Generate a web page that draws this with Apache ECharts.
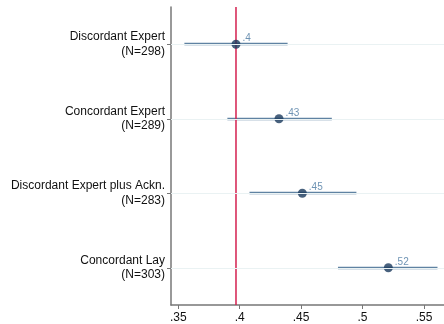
<!DOCTYPE html>
<html>
<head>
<meta charset="utf-8">
<script src="https://cdn.jsdelivr.net/npm/echarts@6/dist/echarts.min.js"></script>
<style>
  html, body { margin: 0; padding: 0; background: #fff; }
  #main { width: 444px; height: 324px; }
</style>
</head>
<body>
<div id="main"></div>
<script>
// group labels, top to bottom
const categories = [
  'Discordant Expert\n(N=298)',
  'Concordant Expert\n(N=289)',
  'Discordant Expert plus Ackn.\n(N=283)',
  'Concordant Lay\n(N=303)'
];
const means = [0.397, 0.432, 0.451, 0.521];
const lower = [0.355, 0.390, 0.408, 0.480];
const upper = [0.439, 0.475, 0.495, 0.561];
const meanLabels = ['.4', '.43', '.45', '.52'];
const referenceValue = 0.397;
const xTicks = [0.35, 0.4, 0.45, 0.5, 0.55];

const chart = echarts.init(document.getElementById('main'));

const ciData = categories.map((c, i) => [lower[i], upper[i], i]);
const pointData = categories.map((c, i) => ({ value: [means[i], c], label: { formatter: meanLabels[i] } }));

function renderCI(params, api) {
  const row = api.value(2);
  const a = api.coord([api.value(0), row]);
  const b = api.coord([api.value(1), row]);
  const y = Math.round(a[1]);
  return {
    type: 'line',
    shape: { x1: a[0], y1: y, x2: b[0], y2: y },
    style: { stroke: '#5f82a2', lineWidth: 2.5 }
  };
}

// vertical reference line across the whole plot
function renderRef(params, api) {
  const cs = params.coordSys;
  const x = api.coord([api.value(0), 0])[0];
  return {
    type: 'line',
    shape: { x1: x, y1: cs.y, x2: x, y2: cs.y + cs.height },
    style: { stroke: '#d41f4f', lineWidth: 1.5 }
  };
}

const fmt = v => String(+v.toFixed(2)).replace(/^0/, '');

chart.setOption({
  animation: false,
  grid: { left: 171, right: 0, top: 7, bottom: 18 },
  xAxis: {
    type: 'value',
    min: 0.3441,
    max: 0.5663,
    axisLine: { show: true, lineStyle: { color: '#777', width: 1.5 } },
    axisTick: { show: true, length: 4, customValues: xTicks, lineStyle: { color: '#777' } },
    axisLabel: {
      customValues: xTicks, formatter: fmt, margin: 7,
      color: '#111', fontSize: 12, fontFamily: 'Liberation Sans, Arial, sans-serif'
    },
    splitLine: { show: false }
  },
  yAxis: {
    type: 'category',
    data: categories,
    inverse: true,
    axisLine: { show: true, lineStyle: { color: '#777', width: 1.5 } },
    axisTick: { show: true, alignWithLabel: true, length: 4, lineStyle: { color: '#777' } },
    axisLabel: {
      margin: 6, color: '#111', fontSize: 12, lineHeight: 14.5, align: 'right',
      fontFamily: 'Liberation Sans, Arial, sans-serif'
    },
    splitLine: { show: false }
  },
  series: [
    {
      type: 'line',
      data: [],
      z: 1,
      markLine: {
        silent: true,
        symbol: 'none',
        label: { show: false },
        lineStyle: { color: '#eaf2f3', width: 1, type: 'solid' },
        data: categories.map(c => ({ yAxis: c }))
      }
    },
    {
      type: 'custom',
      renderItem: renderCI,
      encode: { x: [0, 1], y: 2 },
      data: ciData,
      z: 2
    },
    {
      type: 'custom',
      renderItem: renderRef,
      encode: { x: 0 },
      data: [[referenceValue]],
      z: 3
    },
    {
      type: 'scatter',
      data: pointData,
      symbolSize: 9,
      z: 4,
      itemStyle: { color: '#1a3a5c' },
      label: {
        show: true,
        position: 'right',
        distance: 2,
        offset: [0, -6],
        color: '#4a78a0',
        fontSize: 10,
        fontFamily: 'Liberation Sans, Arial, sans-serif'
      }
    }
  ]
});
</script>
</body>
</html>
